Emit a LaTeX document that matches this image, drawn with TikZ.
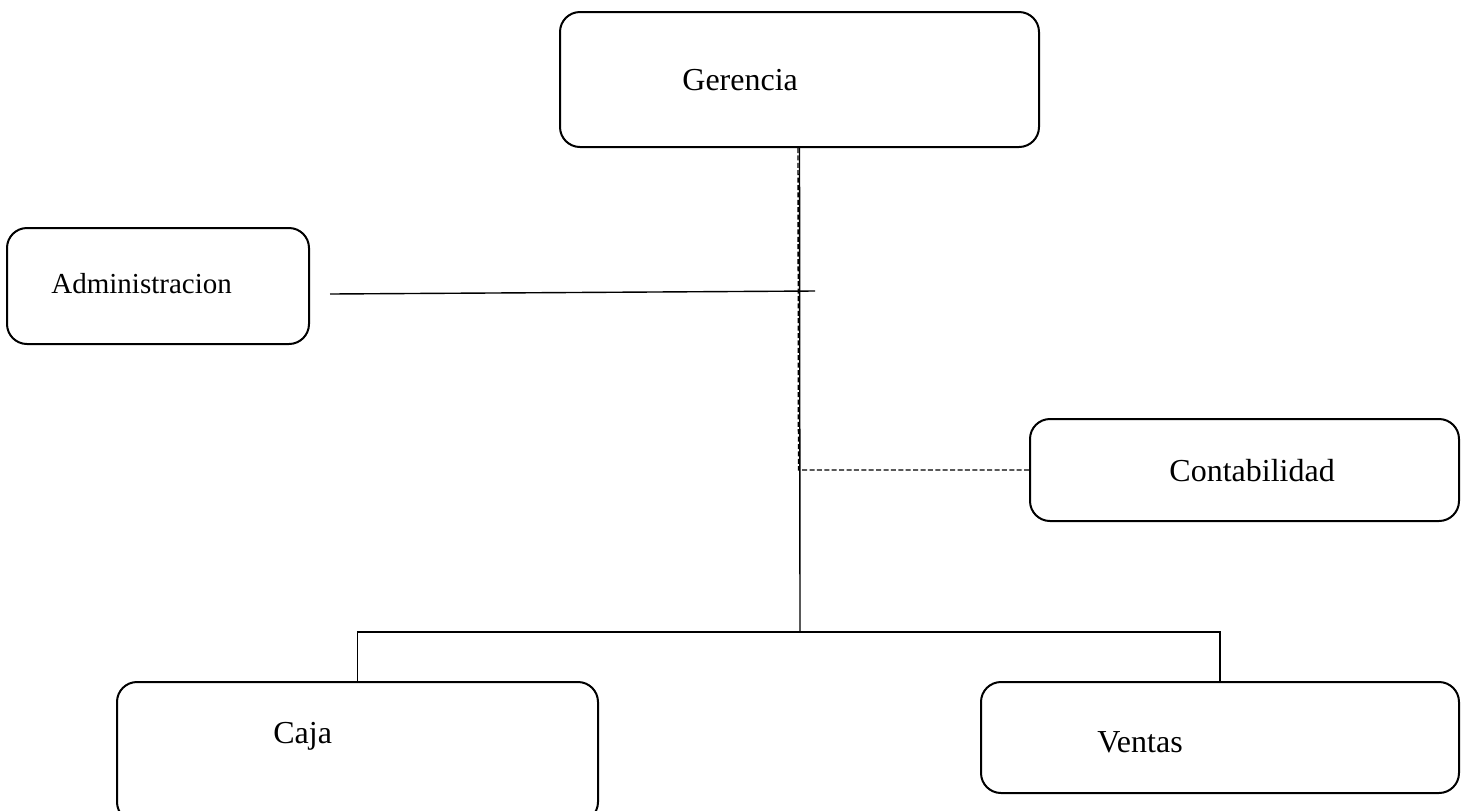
\documentclass[tikz,border=0pt]{standalone}
\usepackage{fontspec}
\setmainfont{Liberation Serif}
\begin{document}
\begin{tikzpicture}[x=0.5pt,y=-0.5pt,
  orgbox/.style={draw,line width=1pt,rounded corners=10pt,inner sep=0pt},
  lbl/.style={anchor=base west,inner sep=0pt,font=\fontsize{16}{19}\selectfont},
  slbl/.style={anchor=base west,inner sep=0pt,font=\fontsize{14.5}{17}\selectfont},
  conn/.style={line width=0.7pt},
  dconn/.style={line width=0.7pt,dash pattern=on 2.5pt off 1.2pt}]
\useasboundingbox (0,0) rectangle (1467,810);
% boxes
\node[orgbox,minimum width=239.5pt,minimum height=67.5pt] (ger) at (799.5,79.5) {};
\node[orgbox,minimum width=151pt,minimum height=58pt] (adm) at (158,286) {};
\node[orgbox,minimum width=214.5pt,minimum height=51pt] (con) at (1244.5,470) {};
\node[orgbox,minimum width=240.5pt,minimum height=70pt] (caja) at (357.5,752) {};
\node[orgbox,minimum width=239pt,minimum height=55.5pt] (ven) at (1220,737.5) {};
% labels
\node[lbl] (gert) at (682,90) {Gerencia};
\node[slbl] (admt) at (51,293) {Administracion};
\node[lbl] (cont) at (1169,481) {Contabilidad};
\node[lbl] (cajat) at (273,743) {Caja};
\node[lbl] (vent) at (1097,752) {Ventas};
% connectors
\coordinate (a1) at (330,294);
\coordinate (a2) at (815,291);
\draw[conn] (a1) -- (a2);
\coordinate (j1) at (798.5,470);
\draw[dconn] ([xshift=-0.75pt]ger.south) -- (j1) -- (con.west);
\coordinate (j2) at (800,632);
\draw[conn] (ger.south) -- (j2);
\draw[conn] (caja.north) |- (j2) -| (ven.north);
\end{tikzpicture}
\end{document}
